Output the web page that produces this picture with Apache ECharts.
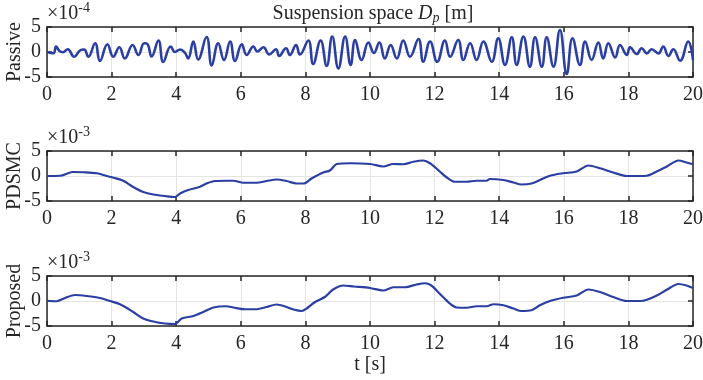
<!DOCTYPE html>
<html>
<head>
<meta charset="utf-8">
<script src="https://cdn.jsdelivr.net/npm/echarts@6/dist/echarts.min.js"></script>
<style>
  html, body { margin: 0; padding: 0; background: #fff; }
  #chart { width: 703px; height: 380px; }
</style>
</head>
<body>
<div id="chart"></div>
<script>
// Time axis ticks and y ticks shared by all three panels
const xTicks = [0, 2, 4, 6, 8, 10, 12, 14, 16, 18, 20];
const yTicks = [-5, 0, 5];

// Panel titles (y-axis names) and exponent of each panel's scale
const panelNames = ['Passive', 'PDSMC', 'Proposed'];
const panelExponents = ['-4', '-3', '-3'];

// Passive suspension space, in units of 1e-4 m
const passiveT = [0.00, 0.20, 0.28, 0.38, 0.49, 0.64, 0.84, 1.02, 1.15, 1.28, 1.49, 1.64, 1.87, 2.05, 2.24, 2.41,
  2.65, 2.83, 3.01, 3.11, 3.24, 3.45, 3.60, 3.83, 3.96, 4.12, 4.27, 4.37, 4.53, 4.68, 4.94, 5.10,
  5.30, 5.48, 5.67, 5.82, 6.03, 6.18, 6.39, 6.51, 6.70, 6.88, 7.09, 7.19, 7.40, 7.52, 7.71, 7.83,
  8.09, 8.24, 8.47, 8.66, 8.83, 9.02, 9.23, 9.40, 9.54, 9.74, 9.95, 10.12, 10.29, 10.46, 10.64, 10.83,
  11.03, 11.24, 11.50, 11.65, 11.86, 12.08, 12.32, 12.48, 12.73, 12.89, 13.10, 13.30, 13.51, 13.77,
  13.97, 14.18, 14.39, 14.54, 14.75, 14.95, 15.11, 15.32, 15.47, 15.68, 15.88, 16.09, 16.27, 16.50,
  16.66, 16.86, 17.07, 17.22, 17.38, 17.59, 17.74, 17.95, 18.05, 18.26, 18.41, 18.57, 18.72, 18.93,
  19.08, 19.24, 19.39, 19.60, 19.85, 20.00];
const passiveV = [0.0, -0.25, 1.1, 0.25, -0.05, 0.55, -0.95, 0.3, 0.5, -0.95, 1.75, -1.8, 1.55, -0.95, 0.95, -1.3,
  1.4, -0.6, 1.75, 1.6, -0.9, 2.3, -2.0, 1.1, 0.0, 0.5, -0.15, -1.3, 2.1, -1.5, 3.0, -2.7,
  1.75, -1.6, 2.1, -1.8, 1.55, -0.6, 1.1, 0.1, 0.95, -0.5, 0.55, -0.8, 0.75, -0.6, 1.4, -0.5,
  2.3, -2.4, 2.3, -2.8, 3.1, -3.3, 3.1, -2.6, 2.4, -1.6, 1.9, -0.2, 1.9, -1.3, 1.4, -1.3,
  2.3, -0.95, 2.6, -1.96, 2.1, -1.96, 2.3, -0.95, 2.4, -1.6, 1.75, -1.6, 2.1, -1.96,
  2.75, -2.6, 2.95, -2.6, 3.1, -2.95, 2.95, -2.95, 2.95, -2.95, 4.4, -4.4, 2.75, -2.6,
  2.1, -1.6, 1.9, -1.3, 1.75, -1.1, 1.4, -0.6, 0.95, -0.4, 0.75, -0.27, 0.55, -0.27,
  1.1, -0.8, 0.55, -1.75, 2.1, -1.6];

// PDSMC suspension space, in units of 1e-3 m
const pdsmcT = [0.00, 0.40, 0.80, 1.13, 1.54, 1.85, 2.06, 2.36, 2.67, 2.98, 3.29, 3.65, 3.96, 4.12, 4.37, 4.74,
  4.94, 5.20, 5.56, 5.77, 6.08, 6.49, 6.80, 7.11, 7.42, 7.73, 7.94, 8.19, 8.55, 8.76, 8.97, 9.38,
  10.00, 10.41, 10.72, 11.03, 11.34, 11.65, 11.86, 12.16, 12.37, 12.63, 12.99, 13.30, 13.61, 13.71,
  14.13, 14.44, 14.69, 15.00, 15.26, 15.57, 15.98, 16.40, 16.76, 17.12, 17.53, 17.95, 18.36, 18.57,
  18.88, 19.19, 19.55, 19.80, 20.00];
const pdsmcV = [0.0, 0.05, 0.8, 0.75, 0.55, 0.0, -0.35, -0.95, -2.2, -3.2, -3.7, -4.0, -4.2, -3.5, -2.8, -2.15,
  -1.5, -1.0, -0.95, -0.95, -1.35, -1.35, -1.0, -0.7, -1.0, -1.5, -1.5, -0.5, 0.7, 1.1, 2.4, 2.55,
  2.4, 1.9, 2.4, 2.35, 2.85, 3.1, 2.55, 0.9, -0.25, -1.15, -1.15, -0.95, -0.95, -0.6,
  -0.8, -1.3, -1.7, -1.5, -0.8, 0.05, 0.55, 0.9, 2.1, 1.55, 0.7, 0.0, 0.0, 0.05,
  0.9, 1.9, 3.1, 2.7, 2.35];

// Proposed controller suspension space, in units of 1e-3 m
const proposedT = [0.00, 0.30, 0.56, 0.87, 1.23, 1.64, 1.95, 2.26, 2.67, 2.98, 3.29, 3.65, 3.96, 4.17, 4.53, 4.84,
  5.15, 5.56, 5.77, 6.13, 6.49, 6.80, 7.11, 7.42, 7.63, 7.89, 8.04, 8.30, 8.60, 8.86, 9.17, 9.50,
  10.00, 10.41, 10.72, 11.08, 11.44, 11.70, 11.90, 12.16, 12.47, 12.68, 12.99, 13.30, 13.61, 13.82,
  14.13, 14.44, 14.69, 15.00, 15.26, 15.57, 15.98, 16.40, 16.76, 17.12, 17.53, 17.95, 18.36, 18.57,
  18.88, 19.19, 19.55, 19.80, 20.00];
const proposedV = [0.05, -0.05, 0.6, 1.2, 1.0, 0.6, 0.0, -0.65, -2.2, -3.5, -4.1, -4.5, -4.6, -3.5, -3.0, -2.2,
  -1.3, -1.05, -1.3, -1.65, -1.65, -1.2, -0.7, -1.2, -1.7, -2.0, -1.5, -0.2, 0.8, 2.3, 3.1, 2.9,
  2.6, 2.1, 2.75, 2.75, 3.3, 3.55, 3.1, 1.45, -0.5, -1.3, -1.35, -1.05, -1.05, -0.65,
  -0.85, -1.5, -2.0, -1.85, -0.85, 0.0, 0.65, 1.1, 2.3, 1.8, 0.8, 0.0, 0.0, 0.25,
  1.1, 2.25, 3.4, 3.1, 2.6];

const seriesT = [passiveT, pdsmcT, proposedT];
const seriesV = [passiveV, pdsmcV, proposedV];
const smoothness = [0.45, 0.3, 0.3];
const lineWidths = [2.6, 2.2, 2.2];

const ink = '#262626';
const lineColor = '#2B3EA2';
const gridColor = '#e4e4e4';
const font = 'Liberation Serif';
const fs = 20;
const tops = [27, 151, 276];

const grids = [], xAxes = [], yAxes = [], series = [];
tops.forEach((top, i) => {
  grids.push({ left: 47, top: top, width: 646, height: 50, containLabel: false, outerBoundsMode: 'none' });
  const common = {
    gridIndex: i, type: 'value', min: xTicks[0], max: xTicks[xTicks.length - 1], interval: xTicks[1] - xTicks[0],
    axisLine: { show: true, onZero: false, lineStyle: { color: ink, width: 1.5 } },
    axisTick: { show: true, inside: true, length: 5, lineStyle: { color: ink, width: 1.5 } }
  };
  xAxes.push(Object.assign({}, common, {
    position: 'bottom',
    axisLabel: { color: ink, fontFamily: font, fontSize: fs, margin: 8 },
    splitLine: { show: true, lineStyle: { color: gridColor, width: 1 } },
    name: i === 2 ? 't [s]' : '', nameLocation: 'middle', nameGap: 29, nameMoveOverlap: false,
    nameTextStyle: { color: ink, fontFamily: font, fontSize: fs }
  }));
  xAxes.push(Object.assign({}, common, {
    position: 'top', axisLabel: { show: false }, splitLine: { show: false }
  }));
  const ycommon = {
    gridIndex: i, type: 'value', min: yTicks[0], max: yTicks[yTicks.length - 1], interval: yTicks[1] - yTicks[0],
    axisLine: { show: true, onZero: false, lineStyle: { color: ink, width: 1.5 } },
    axisTick: { show: true, inside: true, length: 5, lineStyle: { color: ink, width: 1.5 } }
  };
  yAxes.push(Object.assign({}, ycommon, {
    position: 'left',
    axisLabel: { color: ink, fontFamily: font, fontSize: fs, margin: 6 },
    splitLine: { show: true, lineStyle: { color: gridColor, width: 1 } },
    name: panelNames[i], nameLocation: 'middle', nameGap: 22, nameRotate: 90, nameMoveOverlap: false,
    nameTextStyle: { color: ink, fontFamily: font, fontSize: fs }
  }));
  yAxes.push(Object.assign({}, ycommon, {
    position: 'right', axisLabel: { show: false }, splitLine: { show: false }
  }));
  // exponent label of the panel's scale
  yAxes.push({
    gridIndex: i, type: 'value', position: 'left', min: yTicks[0], max: yTicks[yTicks.length - 1],
    axisLine: { show: false }, axisTick: { show: false }, axisLabel: { show: false }, splitLine: { show: false },
    name: '×10{sup|' + panelExponents[i] + '}', nameLocation: 'end', nameGap: 0, nameMoveOverlap: false,
    nameTextStyle: {
      color: ink, fontFamily: font, fontSize: fs, align: 'left', verticalAlign: 'bottom',
      rich: { sup: { fontFamily: font, fontSize: 14, color: ink, verticalAlign: 'top', padding: [0, 0, 12, 0] } }
    }
  });
  series.push({
    type: 'line', xAxisIndex: 2 * i, yAxisIndex: 3 * i,
    data: seriesT[i].map((t, k) => [t, seriesV[i][k]]),
    showSymbol: false, smooth: smoothness[i],
    lineStyle: { color: lineColor, width: lineWidths[i] }, silent: true, animation: false
  });
});

const chart = echarts.init(document.getElementById('chart'), null, { renderer: 'canvas' });
chart.setOption({
  animation: false,
  title: {
    text: 'Suspension space {i|D}{sub|p} [m]', left: 368, textAlign: 'center', top: -3,
    textStyle: {
      color: ink, fontFamily: font, fontSize: fs, fontWeight: 'normal',
      rich: {
        i: { fontFamily: font, fontSize: fs, fontStyle: 'italic', color: ink },
        sub: { fontFamily: font, fontSize: 14, fontStyle: 'italic', color: ink, padding: [9, 0, 0, 0] }
      }
    }
  },
  grid: grids, xAxis: xAxes, yAxis: yAxes, series: series
});
</script>
</body>
</html>
